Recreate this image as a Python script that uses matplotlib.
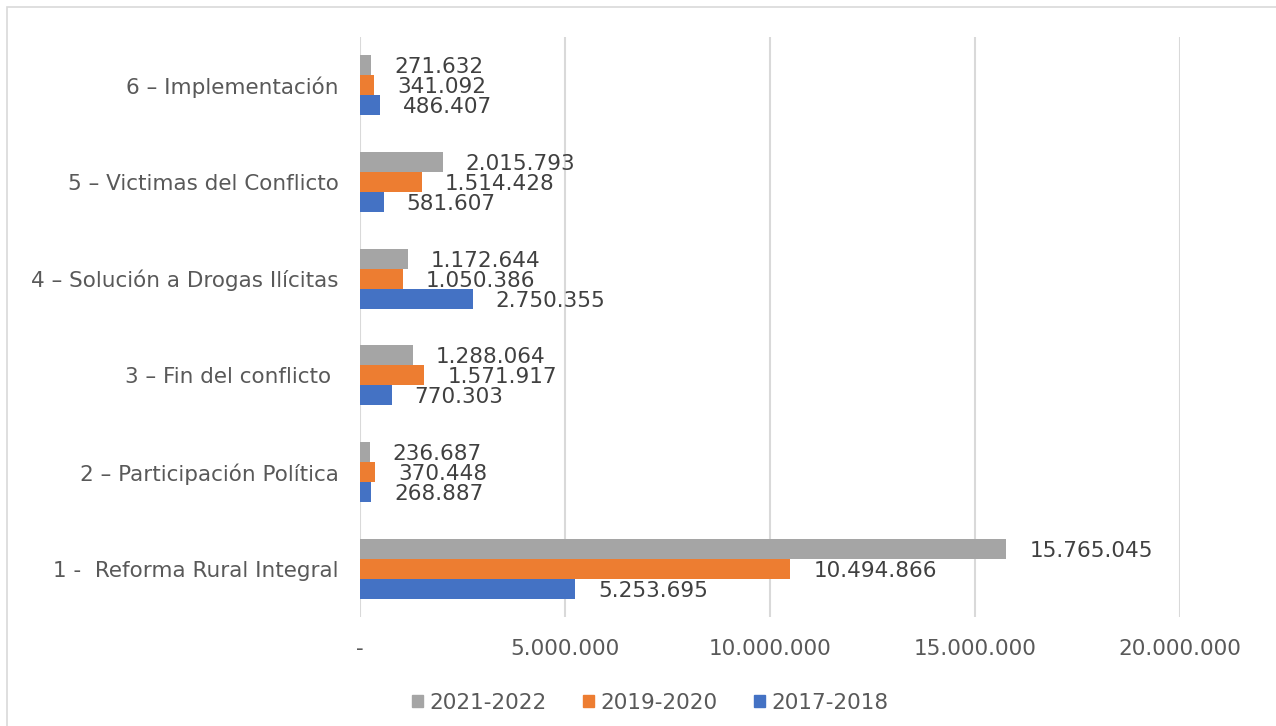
import matplotlib
matplotlib.use("Agg")
import matplotlib.pyplot as plt
from matplotlib.patches import Patch, Rectangle
import numpy as np

categories = [
    "1 -  Reforma Rural Integral",
    "2 – Participación Política",
    "3 – Fin del conflicto ",
    "4 – Solución a Drogas Ilícitas",
    "5 – Victimas del Conflicto",
    "6 – Implementación",
]
series_names = ["2021-2022", "2019-2020", "2017-2018"]
values_2021_2022 = [15765045, 236687, 1288064, 1172644, 2015793, 271632]
values_2019_2020 = [10494866, 370448, 1571917, 1050386, 1514428, 341092]
values_2017_2018 = [5253695, 268887, 770303, 2750355, 581607, 486407]
colors = ["#A5A5A5", "#ED7D31", "#4472C4"]
x_ticks = [0, 5000000, 10000000, 15000000, 20000000]

TEXT = "#595959"
FS = 15.5


def fmt(v):
    if v == 0:
        return "-"
    return f"{v:,.0f}".replace(",", ".")


fig = plt.figure(figsize=(12.76, 7.26), dpi=100)
fig.patches.append(Rectangle((7 / 1276, -0.01), 1.02, 1 - 7 / 726 + 0.01,
                             transform=fig.transFigure, fill=False,
                             edgecolor="#D9D9D9", linewidth=1.2))

ax = fig.add_axes([360 / 1276, 109 / 726, 820 / 1276, 580 / 726])

y = np.arange(len(categories))
h = 0.207
all_series = [values_2021_2022, values_2019_2020, values_2017_2018]
offsets = [h, 0, -h]
for vals, off, col, name in zip(all_series, offsets, colors, series_names):
    ax.barh(y + off, vals, height=h, color=col, label=name, zorder=3)
    for yy, v in zip(y + off, vals):
        ax.annotate(fmt(v), xy=(v, yy), xytext=(16.5, -1.5),
                    textcoords="offset points", ha="left", va="center",
                    fontsize=FS, color="#404040", zorder=4)

ax.set_xlim(0, 20000000)
ax.set_ylim(-0.5, len(categories) - 0.5)
ax.set_xticks(x_ticks)
ax.set_xticklabels([fmt(t) for t in x_ticks], fontsize=FS, color=TEXT)
ax.set_yticks(y)
ax.set_yticklabels(categories, fontsize=FS, color=TEXT)
ax.tick_params(axis="x", length=0, pad=15.5)
ax.tick_params(axis="y", length=0, pad=15.5)
ax.grid(axis="x", color="#D9D9D9", linewidth=1.5, zorder=0)
for s in ax.spines.values():
    s.set_visible(False)

handles = [Patch(color=c, label=n) for c, n in zip(colors, series_names)]
fig.legend(handles=handles, loc="center", bbox_to_anchor=(650 / 1276, 1 - 703 / 726),
           ncol=3, frameon=False, fontsize=FS, labelcolor=TEXT,
           handlelength=0.5, handleheight=0.5, handletextpad=0.3,
           columnspacing=1.7)

fig.savefig("out.png", dpi=100)
